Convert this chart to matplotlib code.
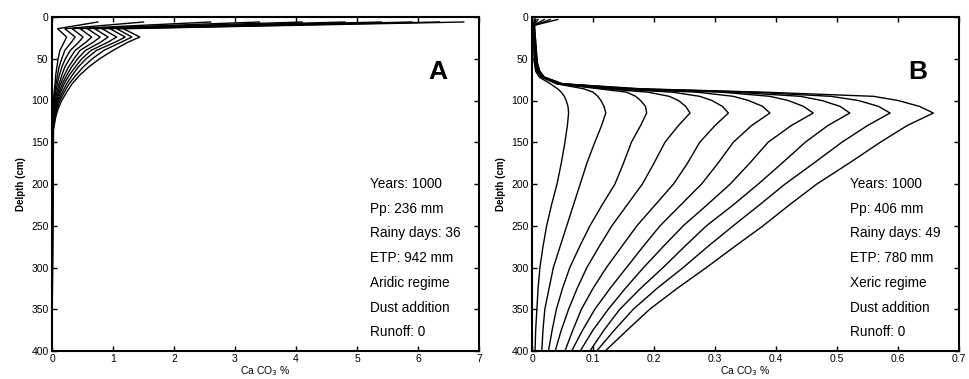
import numpy as np
import matplotlib
matplotlib.use("Agg")
import matplotlib.pyplot as plt

plt.rcParams['font.family'] = ['Liberation Sans', 'DejaVu Sans']

# ---- panel A (aridic) : depth (cm) and CaCO3 % for 10 profiles ----
depth_a = [6, 14, 24, 30, 40, 50, 60, 70, 80, 90, 100, 110, 120, 135, 400]
caco3_a = [
    [0.75, 1.5, 2.6, 3.4, 4.1, 4.8, 5.4, 5.9, 6.35, 6.75],
    [0.09, 0.21, 0.33, 0.46, 0.58, 0.70, 0.82, 0.95, 1.06, 1.17],
    [0.24, 0.38, 0.51, 0.65, 0.79, 0.92, 1.06, 1.20, 1.31, 1.44],
    [0.20, 0.32, 0.44, 0.56, 0.68, 0.80, 0.92, 1.04, 1.14, 1.25],
    [0.13, 0.21, 0.30, 0.38, 0.46, 0.55, 0.64, 0.73, 0.85, 1.00],
    [0.10, 0.16, 0.22, 0.29, 0.36, 0.42, 0.49, 0.56, 0.66, 0.78],
    [0.08, 0.115, 0.16, 0.21, 0.27, 0.32, 0.38, 0.43, 0.51, 0.60],
    [0.06, 0.09, 0.12, 0.16, 0.20, 0.24, 0.28, 0.33, 0.39, 0.45],
    [0.05, 0.066, 0.087, 0.115, 0.14, 0.17, 0.20, 0.24, 0.28, 0.33],
    [0.035, 0.045, 0.06, 0.08, 0.10, 0.12, 0.14, 0.17, 0.20, 0.24],
    [0.025, 0.03, 0.04, 0.055, 0.07, 0.08, 0.095, 0.11, 0.13, 0.16],
    [0.015, 0.02, 0.025, 0.035, 0.045, 0.05, 0.06, 0.07, 0.085, 0.10],
    [0.01, 0.012, 0.015, 0.02, 0.025, 0.03, 0.035, 0.04, 0.05, 0.06],
    [0.005, 0.005, 0.007, 0.009, 0.01, 0.012, 0.015, 0.017, 0.02, 0.025],
    [0, 0, 0, 0, 0, 0, 0, 0, 0, 0],
]
info_a = ["Years: 1000", "Pp: 236 mm", "Rainy days: 36", "ETP: 942 mm",
          "Aridic regime", "Dust addition", "Runoff: 0"]

# ---- panel B (xeric) ----
depth_b = [3, 10, 30, 55, 65, 72, 80, 86, 90, 95, 100, 107, 115, 130, 150,
           175, 200, 225, 250, 275, 300, 325, 350, 375, 400]
caco3_b = [
    [0.004, 0.004, 0.005, 0.005, 0.006, 0.006, 0.01, 0.02, 0.03, 0.042],
    [0.003, 0.003, 0.003, 0.003, 0.003, 0.003, 0.003, 0.003, 0.004, 0.004],
    [0.003, 0.003, 0.004, 0.004, 0.004, 0.005, 0.005, 0.005, 0.006, 0.006],
    [0.004, 0.004, 0.005, 0.005, 0.006, 0.006, 0.007, 0.008, 0.008, 0.009],
    [0.006, 0.008, 0.009, 0.01, 0.01, 0.01, 0.011, 0.012, 0.012, 0.013],
    [0.012, 0.015, 0.016, 0.017, 0.017, 0.018, 0.018, 0.02, 0.02, 0.02],
    [0.03, 0.04, 0.042, 0.044, 0.045, 0.046, 0.047, 0.048, 0.05, 0.05],
    [0.042, 0.085, 0.11, 0.12, 0.13, 0.14, 0.15, 0.16, 0.17, 0.18],
    [0.048, 0.10, 0.155, 0.19, 0.23, 0.27, 0.31, 0.33, 0.36, 0.38],
    [0.053, 0.108, 0.17, 0.225, 0.275, 0.33, 0.39, 0.44, 0.49, 0.56],
    [0.056, 0.113, 0.178, 0.24, 0.295, 0.355, 0.42, 0.475, 0.535, 0.60],
    [0.059, 0.118, 0.186, 0.252, 0.312, 0.378, 0.445, 0.505, 0.568, 0.635],
    [0.060, 0.121, 0.188, 0.259, 0.322, 0.390, 0.461, 0.521, 0.587, 0.658],
    [0.058, 0.114, 0.178, 0.24, 0.30, 0.36, 0.425, 0.485, 0.55, 0.615],
    [0.054, 0.103, 0.163, 0.218, 0.275, 0.33, 0.387, 0.448, 0.508, 0.571],
    [0.048, 0.09, 0.15, 0.20, 0.255, 0.305, 0.357, 0.41, 0.462, 0.52],
    [0.041, 0.079, 0.136, 0.181, 0.232, 0.278, 0.325, 0.371, 0.415, 0.467],
    [0.032, 0.068, 0.115, 0.156, 0.202, 0.244, 0.287, 0.33, 0.373, 0.422],
    [0.024, 0.057, 0.095, 0.131, 0.172, 0.21, 0.248, 0.286, 0.33, 0.379],
    [0.018, 0.046, 0.078, 0.11, 0.147, 0.182, 0.215, 0.25, 0.288, 0.332],
    [0.013, 0.035, 0.062, 0.09, 0.122, 0.155, 0.183, 0.215, 0.248, 0.286],
    [0.01, 0.028, 0.05, 0.074, 0.1, 0.128, 0.153, 0.178, 0.205, 0.238],
    [0.008, 0.021, 0.04, 0.06, 0.081, 0.103, 0.125, 0.144, 0.166, 0.193],
    [0.006, 0.018, 0.033, 0.048, 0.067, 0.083, 0.1, 0.118, 0.135, 0.156],
    [0.005, 0.016, 0.027, 0.038, 0.054, 0.065, 0.079, 0.095, 0.106, 0.120],
]
info_b = ["Years: 1000", "Pp: 406 mm", "Rainy days: 49", "ETP: 780 mm",
          "Xeric regime", "Dust addition", "Runoff: 0"]

fig = plt.figure(figsize=(9.69, 3.79), dpi=100)
ax_a = fig.add_axes([52/969, 28/379, 427/969, 334/379])
ax_b = fig.add_axes([532/969, 28/379, 427/969, 334/379])


def draw_panel(ax, depth, values, xmax, xticks, xlabels, letter, info):
    vals = np.array(values)
    for j in range(vals.shape[1]):
        ax.plot(vals[:, j], depth, color='black', lw=1.0)
    ax.set_xlim(0, xmax)
    ax.set_ylim(400, 0)
    ax.set_xticks(xticks)
    ax.set_xticklabels(xlabels)
    ax.set_yticks(range(0, 401, 50))
    ax.tick_params(direction='in', top=True, right=True, length=3.5,
                   width=1.0, labelsize=7.5, pad=2.5)
    for s in ax.spines.values():
        s.set_linewidth(1.5)
    ax.set_xlabel("Ca CO$_3$ %", fontsize=7.5, labelpad=0)
    ax.set_ylabel("Delpth (cm)", fontsize=7, fontweight='bold', labelpad=4)
    ax.text(0.903, 0.835, letter, transform=ax.transAxes, fontsize=19,
            fontweight='bold', ha='center', va='center')
    for k, line in enumerate(info):
        ax.text(0.745, 0.50 - k * 0.074, line, transform=ax.transAxes,
                fontsize=9.8, ha='left', va='center')


draw_panel(ax_a, depth_a, caco3_a, 7, range(0, 8),
           [str(i) for i in range(8)], "A", info_a)
draw_panel(ax_b, depth_b, caco3_b, 0.7, [i / 10 for i in range(8)],
           ["0", "0.1", "0.2", "0.3", "0.4", "0.5", "0.6", "0.7"], "B", info_b)

fig.savefig("out.png", dpi=100)
